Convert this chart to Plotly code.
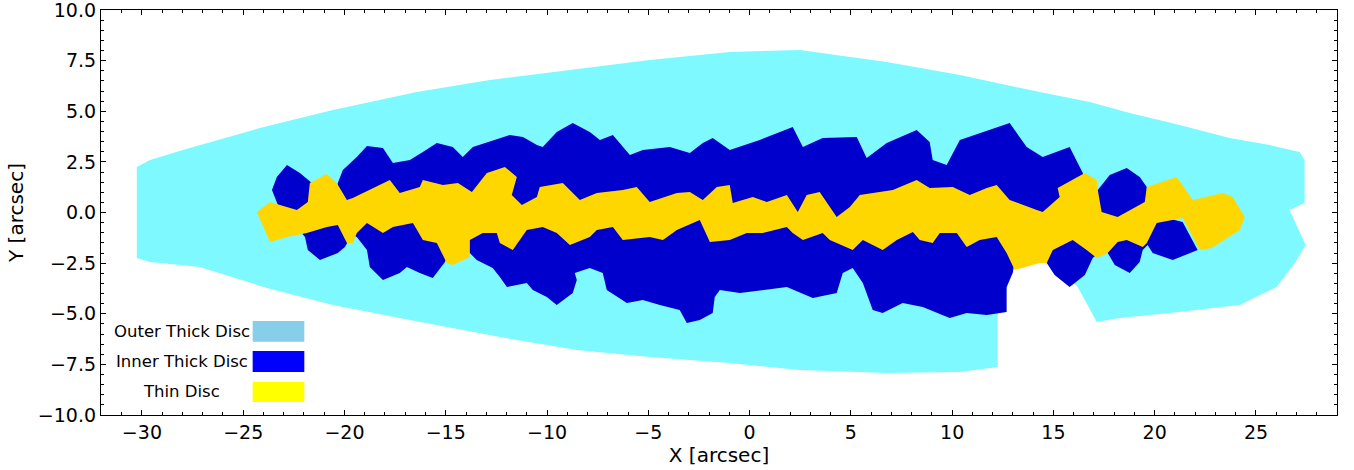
import plotly.graph_objects as go

# ---------------- data (arcsec) ----------------
# Outer thick disc outline
outer_x = [-30.25, -29.60, -27.98, -24.18, -20.57, -16.43, -12.82, -8.87, -4.93, -0.98,
           2.48, 6.77, 10.38, 14.32, 16.79, 18.77, 21.23, 23.70, 25.68, 27.16,
           27.40, 27.40, 26.66, 27.45, 26.96, 26.02, 24.20, 20.74, 18.27, 17.14,
           16.20, 15.31, 14.67, 13.09, 12.84, 12.50, 12.25, 12.25, 10.38, 6.77,
           2.48, -0.98, -4.93, -8.53, -12.33, -16.77, -20.57, -23.83, -27.14, -29.60,
           -30.25]
outer_y = [2.25, 2.59, 3.09, 4.17, 5.06, 5.95, 6.54, 7.04, 7.53, 7.93,
           8.02, 7.43, 6.79, 5.95, 5.46, 4.91, 4.32, 3.68, 3.33, 2.99,
           2.59, 0.47, 0.12, -1.60, -2.44, -3.68, -4.57, -4.96, -5.21, -5.41,
           -3.68, -2.84, -2.10, -2.35, -3.33, -4.32, -4.96, -7.63, -7.88, -7.93,
           -7.78, -7.43, -7.14, -6.79, -6.15, -5.31, -4.57, -3.73, -2.69, -2.44,
           -2.25]

# Inner thick disc outline
inner_x = [-23.58, -23.34, -22.84, -22.20, -21.61, -21.41, -20.47, -20.33, -20.08, -19.39,
           -18.89, -18.10, -17.61, -16.77, -16.13, -15.44, -14.65, -14.16, -13.66, -11.84,
           -11.19, -10.50, -10.21, -9.52, -8.73, -7.89, -7.39, -6.75, -5.91, -5.27,
           -3.94, -2.95, -2.31, -1.82, -0.98, 0.50, 2.13, 2.63, 3.61, 5.29,
           5.78, 6.77, 8.25, 8.89, 9.04, 9.73, 10.38, 12.20, 12.84, 13.68,
           14.47, 15.80, 16.45, 16.55, 17.14, 17.19, 17.78, 18.62, 19.26, 19.61,
           19.61, 20.00, 21.38, 22.12, 20.89, 19.90, 19.65, 19.41, 19.26, 18.77,
           18.03, 17.68, 17.29, 16.94, 16.55, 15.80, 15.06, 14.67, 14.32, 13.09,
           12.99, 12.69, 12.69, 11.71, 10.72, 9.88, 9.24, 8.55, 7.56, 6.57,
           6.08, 5.59, 5.09, 4.60, 4.30, 3.12, 1.84, 0.65, -0.48, -1.47,
           -1.72, -1.82, -2.46, -3.10, -3.45, -4.43, -5.27, -6.06, -6.55, -7.05,
           -7.25, -7.89, -8.63, -8.53, -8.73, -9.52, -10.01, -10.70, -11.00, -11.98,
           -12.33, -12.68, -13.47, -13.81, -14.06, -14.80, -15.04, -15.64, -16.28, -16.92,
           -17.27, -18.10, -18.75, -18.89, -19.39, -19.63, -19.98, -20.33, -21.21, -21.81,
           -21.95, -22.45, -23.19, -23.34]
inner_y = [1.11, 1.75, 2.35, 1.95, 1.46, 0.37, 0.37, 1.46, 2.10, 2.74,
           3.28, 3.19, 2.44, 2.59, 2.99, 3.43, 3.23, 2.74, 3.23, 3.83,
           3.73, 3.33, 3.23, 3.98, 4.42, 3.98, 3.58, 3.83, 2.84, 3.09,
           3.23, 2.94, 3.43, 3.68, 3.09, 3.58, 4.22, 3.23, 3.68, 3.73,
           2.69, 3.43, 4.07, 3.48, 2.59, 2.35, 3.58, 4.22, 4.42, 3.23,
           2.74, 3.23, 1.95, 1.36, 0.86, 1.11, 1.85, 2.20, 1.75, 1.26,
           0.12, -0.12, -0.47, -1.85, -2.35, -2.00, -1.60, -1.85, -2.44, -2.99,
           -2.59, -2.00, -1.95, -2.25, -3.09, -3.68, -3.09, -2.49, -2.25, -2.44,
           -2.99, -3.68, -4.91, -5.06, -4.96, -5.21, -4.96, -4.67, -4.47, -4.96,
           -4.81, -3.48, -2.74, -2.99, -3.98, -4.22, -3.68, -3.83, -3.98, -3.83,
           -4.17, -4.96, -5.31, -5.46, -4.81, -4.57, -4.32, -4.47, -4.17, -3.83,
           -2.99, -2.74, -2.99, -3.33, -3.98, -4.57, -4.17, -3.83, -3.48, -3.68,
           -3.19, -2.74, -2.35, -2.00, -1.60, -1.85, -2.44, -3.23, -2.99, -2.69,
           -2.99, -3.33, -2.69, -1.85, -1.21, -1.11, -1.70, -2.00, -2.35, -1.85,
           -1.21, -0.62, 0.12, 0.52]

# Thin disc outline
thin_x = [-24.32, -23.68, -22.35, -21.81, -21.71, -20.87, -20.38, -19.88, -19.59, -18.75,
          -17.76, -17.27, -16.28, -16.13, -15.14, -14.40, -13.71, -12.97, -12.08, -11.49,
          -11.74, -11.24, -10.50, -10.36, -9.22, -8.38, -7.54, -6.26, -5.57, -4.93,
          -3.59, -2.95, -2.31, -1.62, -0.98, -0.83, 0.16, 0.85, 1.84, 2.38,
          2.82, 3.46, 4.30, 4.95, 5.44, 7.07, 8.25, 8.89, 10.03, 10.87,
          11.71, 12.20, 12.84, 14.18, 14.47, 15.31, 15.21, 16.55, 17.14, 17.19,
          17.38, 18.17, 19.51, 19.61, 21.09, 21.88, 23.36, 23.85, 24.34, 24.44,
          24.20, 22.81, 22.22, 21.38, 20.10, 19.85, 19.61, 19.41, 18.62, 18.17,
          17.68, 17.14, 16.64, 15.95, 14.97, 14.67, 14.32, 13.09, 12.69, 12.20,
          11.36, 10.72, 10.23, 9.39, 9.04, 8.40, 8.06, 7.27, 6.57, 5.59,
          5.09, 3.96, 3.61, 2.63, 2.13, 1.84, 0.65, -0.14, -0.98, -1.96,
          -2.46, -3.59, -4.28, -4.93, -6.26, -6.75, -7.54, -7.89, -8.87, -9.52,
          -10.21, -11.00, -11.69, -12.33, -12.48, -13.17, -13.81, -13.81, -14.65, -14.95,
          -15.44, -16.13, -16.62, -17.61, -18.10, -18.89, -19.39, -19.59, -19.88, -20.33,
          -20.87, -21.86, -22.84, -23.68]
thin_y = [0.02, 0.52, 0.12, 0.52, 1.46, 1.90, 1.46, 0.62, 0.72, 1.11,
          1.60, 0.96, 1.26, 1.60, 1.36, 1.46, 1.01, 1.95, 2.25, 1.75,
          0.86, 0.37, 0.77, 1.26, 1.46, 0.62, 0.96, 1.11, 1.26, 0.52,
          0.96, 1.01, 0.62, 1.26, 1.36, 0.47, 0.77, 0.52, 0.86, 0.02,
          0.86, 1.01, -0.22, 0.27, 0.86, 1.11, 1.60, 1.21, 1.26, 0.86,
          1.21, 1.36, 0.62, 0.12, 0.02, 0.77, 1.21, 1.95, 1.60, 1.11,
          0.02, -0.22, 0.52, 1.26, 1.75, 0.62, 0.96, 0.77, -0.02, -0.22,
          -0.86, -1.75, -1.85, -0.27, -0.52, -1.01, -1.51, -1.70, -1.36, -1.46,
          -2.00, -2.25, -1.85, -1.36, -1.85, -2.49, -2.49, -2.84, -2.00, -1.21,
          -1.36, -1.70, -1.01, -1.01, -1.51, -1.36, -0.96, -1.36, -1.85, -1.36,
          -1.85, -1.36, -1.01, -1.36, -1.01, -0.72, -1.01, -1.01, -1.36, -1.46,
          -0.37, -0.86, -1.36, -1.21, -1.36, -0.72, -0.86, -1.21, -1.60, -1.01,
          -0.72, -0.86, -1.85, -1.51, -1.01, -1.01, -1.36, -2.20, -2.59, -2.49,
          -1.51, -1.36, -0.52, -0.72, -1.01, -0.52, -1.01, -1.51, -1.51, -0.62,
          -0.72, -1.01, -1.21, -1.46]

map_colors = ["#7df9ff", "#0000cc", "#ffd700"]
legend_labels = ["Outer Thick Disc", "Inner Thick Disc", "Thin Disc"]
legend_colors = ["#87ceeb", "#0000ff", "#ffff00"]

x_ticks = [-30, -25, -20, -15, -10, -5, 0, 5, 10, 15, 20, 25]
y_ticks = [-10.0, -7.5, -5.0, -2.5, 0.0, 2.5, 5.0, 7.5, 10.0]

FONT = "DejaVu Sans"

fig = go.Figure()
for xs, ys, col in [(outer_x, outer_y, map_colors[0]),
                    (inner_x, inner_y, map_colors[1]),
                    (thin_x, thin_y, map_colors[2])]:
    fig.add_trace(go.Scatter(
        x=xs + [xs[0]], y=ys + [ys[0]], mode="lines", fill="toself",
        fillcolor=col, line=dict(width=0, color=col),
        hoverinfo="skip", showlegend=False))

# custom legend (paper coordinates)
row_y = [(0.1810, 0.2321), (0.1062, 0.1580), (0.0321, 0.0822)]
for (y0, y1), lab, col in zip(row_y, legend_labels, legend_colors):
    fig.add_shape(type="rect", xref="paper", yref="paper",
                  x0=0.1227, x1=0.1645, y0=y0, y1=y1,
                  fillcolor=col, line=dict(width=0), layer="above")
    fig.add_annotation(xref="paper", yref="paper", x=0.0655, y=(y0 + y1) / 2,
                       text=lab, showarrow=False, xanchor="center", yanchor="middle",
                       font=dict(family=FONT, size=16.5, color="black"))

axis_common = dict(
    showline=True, linecolor="black", linewidth=1.2, mirror="ticks",
    ticks="inside", ticklen=5, tickwidth=1, tickcolor="black",
    showgrid=False, zeroline=False, ticklabeloverflow="allow",
    tickfont=dict(family=FONT, size=19, color="black"),
)

fig.update_xaxes(
    range=[-32.02, 29.0], tickvals=x_ticks,
    ticktext=[str(v).replace("-", "\u2212") for v in x_ticks],
    minor=dict(dtick=1, tick0=0, ticks="inside", ticklen=3, tickwidth=0.8, tickcolor="black"),
    title=dict(text="X [arcsec]", font=dict(family=FONT, size=20, color="black"), standoff=4),
    **axis_common)
fig.update_yaxes(
    range=[-10, 10], tickvals=y_ticks,
    ticktext=[("%.1f" % v).replace("-", "\u2212") for v in y_ticks],
    minor=dict(dtick=0.5, tick0=0, ticks="inside", ticklen=3, tickwidth=0.8, tickcolor="black"),
    title=dict(text="Y [arcsec]", font=dict(family=FONT, size=20, color="black"), standoff=8),
    **axis_common)

fig.update_layout(
    width=1354, height=470,
    margin=dict(l=101, r=17, t=10, b=55, autoexpand=False),
    paper_bgcolor="white", plot_bgcolor="white",
    font=dict(family=FONT, color="black"),
    showlegend=False,
)

fig.write_html("out.html",
               config={"displayModeBar": False},
               post_script="document.body.style.margin='0';document.body.style.overflow='hidden';")
